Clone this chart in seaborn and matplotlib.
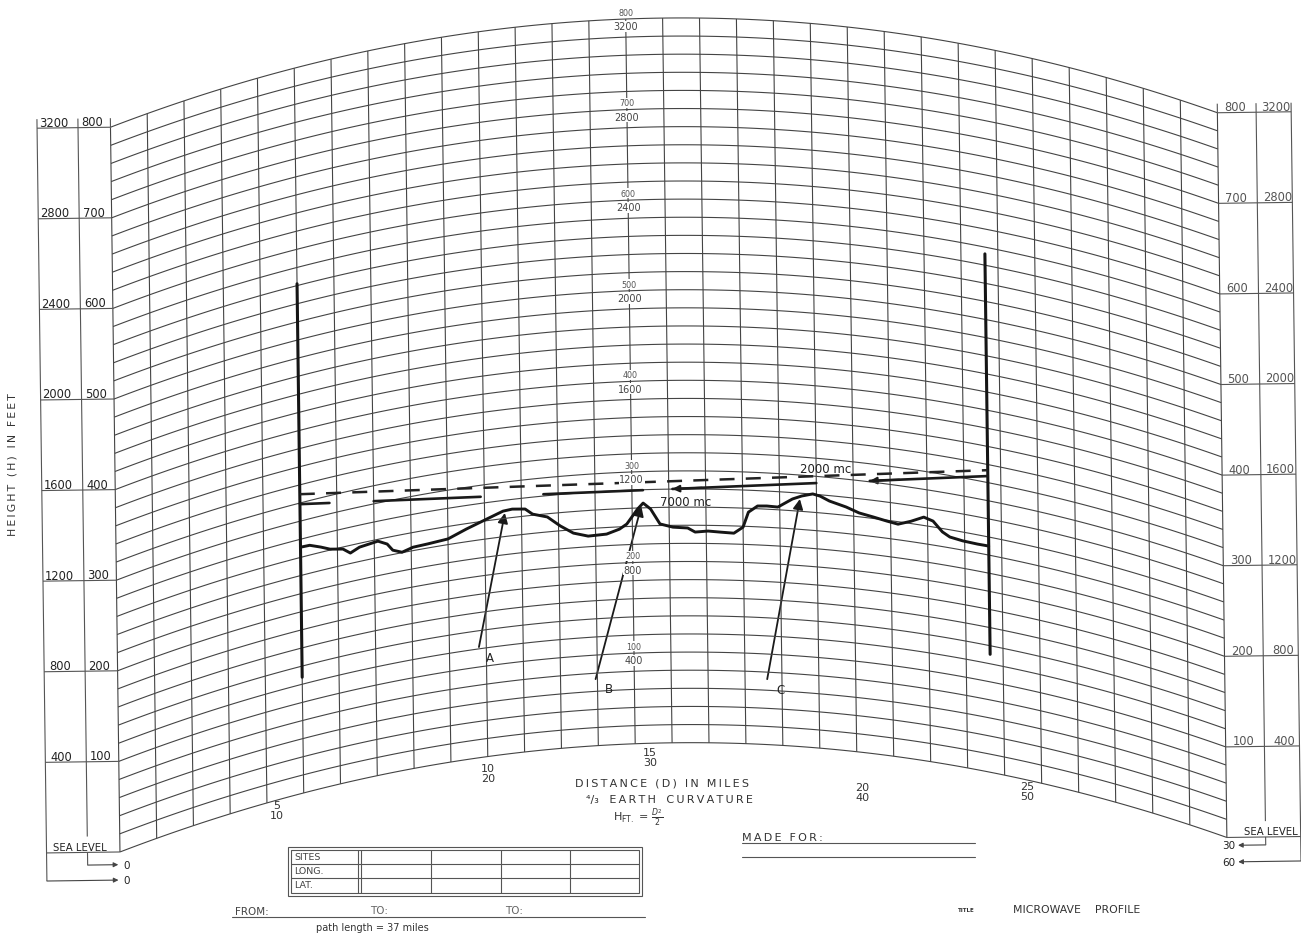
import numpy as np
import pandas as pd
import matplotlib
matplotlib.use("Agg")
import matplotlib.pyplot as plt
import seaborn as sns
from matplotlib.transforms import Affine2D
from matplotlib.collections import LineCollection
from matplotlib.patches import FancyArrowPatch, Rectangle

# ---------------- data ----------------
profile_miles = [10.0, 10.5, 11.1, 11.6, 12.3, 12.7, 13.2, 14.2, 14.7, 15.0,
                 15.5, 16.1, 16.9, 18.0, 19.0, 20.1, 21.0, 21.5, 22.2, 22.6,
                 23.4, 24.1, 24.8, 25.6, 26.6, 27.3, 27.7, 28.3, 28.6, 29.0,
                 29.5, 30.2, 31.0, 31.4, 32.1, 32.8, 33.5, 34.0, 34.3, 34.8,
                 35.3, 35.9, 36.4, 36.7, 37.2, 37.8, 38.2, 38.7, 39.6, 40.3,
                 41.1, 41.8, 42.4, 43.1, 43.8, 44.3, 44.8, 45.2, 45.9, 46.7, 47.3]
profile_elev_ft = [1085, 1083, 1063, 1044, 1031, 1006, 1023, 1032, 1011, 979,
                   962, 975, 978, 985, 1016, 1047, 1073, 1077, 1071, 1045,
                   1026, 981, 945, 927, 931, 950, 971, 1036, 1061, 1034,
                   967, 952, 948, 930, 935, 931, 928, 956, 1023, 1052,
                   1054, 1052, 1077, 1092, 1108, 1121, 1114, 1096, 1077, 1057,
                   1046, 1036, 1029, 1050, 1077, 1066, 1025, 1008, 1001, 999, 1000]

site_miles = [10.0, 47.3]
site_mast_low_ft = [511, 522]
site_mast_high_ft = [2248, 2290]

ray_names = ["7000 mc", "2000 mc"]
ray_start_ft = [1275, 1319]
ray_end_ft = [1309, 1335]
ray_7000_spans_mi = [(10.0, 11.6), (14.0, 19.8), (23.2, 28.6), (30.2, 38.0), (40.9, 47.3)]
ray_7000_arrow_mi = [30.2, 40.9]

obstacle_names = ["A", "B", "C"]
obstacle_miles = [21.1, 28.5, 37.1]
obstacle_elev_ft = [1064, 1048, 1094]
obstacle_tail_miles = [19.6, 25.9, 35.2]
obstacle_tail_ft = [488, 294, 289]
obstacle_label_miles = [20.2, 26.6, 35.9]
obstacle_label_ft = [437, 247, 248]

height_ft_ticks = [0, 400, 800, 1200, 1600, 2000, 2400, 2800, 3200]
height_alt_ticks = [0, 100, 200, 300, 400, 500, 600, 700, 800]
distance_mi_ticks = [10, 20, 30, 40, 50]
distance_alt_ticks = [5, 10, 15, 20, 25]
distance_label_miles = [8.54, 20.0, 28.8, 40.26, 49.2]
distance_label_app_ft = [176, 327, 388, 222, 217]
site_table_rows = ["SITES", "LONG.", "LAT."]
path_length_miles = 37

# ---------------- geometry of the chart paper ----------------
W, H = 1301, 937
X0_PX, PX_PER_MI = 115.0, 18.45
Y0_PX, PX_PER_FT = 846.0, 0.2265
SPAN_MI, TOP_FT = 60, 3200
GRID_FT, GRID_MI = 80, 2


def bulge(d):
    d = np.asarray(d, dtype=float)
    return 0.5 * d * (SPAN_MI - d)      # 4/3 earth: H = d1*d2/2


def app(d, h):
    return np.asarray(h, dtype=float) + bulge(d)


def spaced(s):
    return "\u2009".join(s)


sns.set_theme(style="white")
plt.rcParams['font.family'] = ['DejaVu Sans']
INK = '#222222'
GRIDC = '#444444'

fig = plt.figure(figsize=(W / 100, H / 100), dpi=100)
fig.patch.set_facecolor('white')
ax = fig.add_axes([0, 0, 1, 1])
ax.axis('off')
ax2 = fig.add_axes([0, 0, 1, 1])
ax2.axis('off')
ax2.set_xlim(0, W)
ax2.set_ylim(H, 0)


def set_limits():
    ax.set_xlim(-X0_PX / PX_PER_MI, (W - X0_PX) / PX_PER_MI)
    ax.set_ylim((Y0_PX - H) / PX_PER_FT, Y0_PX / PX_PER_FT)


set_limits()
rot = Affine2D().rotate_deg_around(650, H - 470, 0.75)
T = ax.transData + rot

# ---- curved grid ----
dd = np.linspace(0, SPAN_MI, 301)
segs = [np.column_stack([dd, app(dd, h)]) for h in np.arange(0, TOP_FT + 1, GRID_FT)]
segs += [np.array([[d, app(d, 0)], [d, app(d, TOP_FT)]]) for d in np.arange(0, SPAN_MI + 1, GRID_MI)]
ax.add_collection(LineCollection(segs, colors=GRIDC, linewidths=0.8, transform=T), autolim=False)

# ---- side scales ----
L_OUT, L_MID = -3.98, -1.76
R_MID, R_OUT = 62.1, 64.0
panel = []
for h in height_ft_ticks:
    panel.append([[L_OUT, h], [0, h]])
    panel.append([[SPAN_MI, h], [R_OUT, h]])
panel += [[[L_OUT, 3240], [L_OUT, -124]], [[L_MID, 3240], [L_MID, 70]], [[L_MID, 0], [L_MID, -56]],
          [[0, 3200], [0, 3240]], [[SPAN_MI, 3200], [SPAN_MI, 3240]],
          [[R_MID, 3240], [R_MID, 70]], [[R_MID, 0], [R_MID, -35]], [[R_OUT, 3240], [R_OUT, -108]]]
ax.add_collection(LineCollection(panel, colors='#555555', linewidths=0.8, transform=T), autolim=False)

for (xa, ya, xb) in [(L_OUT, -124, -0.1), (L_MID, -56, -0.1), (R_MID, -35, 60.6), (R_OUT, -108, 60.6)]:
    ax.add_patch(FancyArrowPatch((xa, ya), (xb, ya), arrowstyle='-|>', mutation_scale=7,
                                 lw=0.8, color='#444444', shrinkA=0, shrinkB=0, transform=T))
ax.text(0.15, -124, "0", ha='left', va='center', fontsize=7.5, color=INK, transform=T)
ax.text(0.15, -56, "0", ha='left', va='center', fontsize=7.5, color=INK, transform=T)
ax.text(60.45, -35, "30", ha='right', va='center', fontsize=7.5, color=INK, transform=T)
ax.text(60.45, -108, "60", ha='right', va='center', fontsize=7.5, color=INK, transform=T)

for hf, ha_ in zip(height_ft_ticks[1:], height_alt_ticks[1:]):
    ax.text(-3.09, hf + 10, str(hf), ha='center', va='baseline', fontsize=8.3, color=INK, transform=T)
    ax.text(-0.98, hf + 10, str(ha_), ha='center', va='baseline', fontsize=8.3, color=INK, transform=T)
    ax.text(60.95, hf + 10, str(ha_), ha='center', va='baseline', fontsize=8.3, color='#555555', transform=T)
    ax.text(63.18, hf + 10, str(hf), ha='center', va='baseline', fontsize=8.3, color='#555555', transform=T)
ax.text(-2.17, 12, "SEA LEVEL", ha='center', va='baseline', fontsize=7.3, color=INK, transform=T)
ax.text(62.4, 12, "SEA LEVEL", ha='center', va='baseline', fontsize=7.3, color=INK, transform=T)

# ---- centre height labels ----
for hf, ha_ in zip(height_ft_ticks[1:], height_alt_ticks[1:]):
    yc = float(app(28, hf))
    ax.text(28, yc + 10, str(ha_), ha='center', va='bottom', fontsize=5.8, color='#555555',
            transform=T, bbox=dict(fc='white', ec='none', pad=0.4))
    ax.text(28, yc - 10, str(hf), ha='center', va='top', fontsize=7.0, color='#444444',
            transform=T, bbox=dict(fc='white', ec='none', pad=0.4))

# ---- distance labels ----
for mi, alt, lx, ly in zip(distance_mi_ticks, distance_alt_ticks, distance_label_miles, distance_label_app_ft):
    ax.text(lx, ly, f"{alt}\n{mi}", ha='center', va='center', fontsize=8, linespacing=0.95,
            color='#333333', transform=T)

# ---- terrain profile ----
df = pd.DataFrame({'miles': profile_miles, 'elev': profile_elev_ft})
df['apparent'] = app(df['miles'], df['elev'])
sns.lineplot(data=df, x='miles', y='apparent', ax=ax, sort=False, estimator=None,
             color='#151515', linewidth=2.1, transform=T)

# ---- site masts ----
for d, lo, hi in zip(site_miles, site_mast_low_ft, site_mast_high_ft):
    ax.plot([d, d], [app(d, lo), app(d, hi)], color='#151515', lw=2.2, transform=T)

# ---- radio rays ----
d0, d1 = site_miles
y2a, y2b = float(app(d0, ray_start_ft[1])), float(app(d1, ray_end_ft[1]))
ax.plot([d0, d1], [y2a, y2b], color='#222222', lw=1.8, ls=(0, (6, 4.5)), transform=T)
y7a, y7b = float(app(d0, ray_start_ft[0])), float(app(d1, ray_end_ft[0]))
for a, b in ray_7000_spans_mi:
    xs = np.array([a, b])
    ax.plot(xs, np.interp(xs, [d0, d1], [y7a, y7b]), color='#1a1a1a', lw=1.9, transform=T)
for a in ray_7000_arrow_mi:
    pa = (a + 1.6, float(np.interp(a + 1.6, [d0, d1], [y7a, y7b])))
    pb = (a, float(np.interp(a, [d0, d1], [y7a, y7b])))
    ax.add_patch(FancyArrowPatch(pa, pb, arrowstyle='-|>', mutation_scale=10, lw=1.5,
                                 color='#1a1a1a', shrinkA=0, shrinkB=0, transform=T))

# ---- obstacle pointers ----
for name, dm, he, tm, tf, lm, lf in zip(obstacle_names, obstacle_miles, obstacle_elev_ft,
                                       obstacle_tail_miles, obstacle_tail_ft,
                                       obstacle_label_miles, obstacle_label_ft):
    ax.add_patch(FancyArrowPatch((tm, float(app(tm, tf))), (dm, float(app(dm, he))),
                                 arrowstyle='-|>', mutation_scale=15, lw=1.3, color='#1a1a1a',
                                 shrinkA=0, shrinkB=0, transform=T))
    ax.text(lm, float(app(lm, lf)), name, ha='center', va='center', fontsize=8.5, color=INK, transform=T)

set_limits()

# ---------------- free lettering (page positions) ----------------
ax2.text(686, 503, ray_names[0], ha='center', va='center', fontsize=8.5, color=INK)
ax2.text(826, 470, ray_names[1], ha='center', va='center', fontsize=8.5, color=INK)

ax2.text(13, 465, spaced("HEIGHT (H) IN FEET"), rotation=90, ha='center', va='center',
         fontsize=7.8, color='#333333')
ax2.text(662, 784, spaced("DISTANCE (D) IN MILES"), ha='center', va='center', fontsize=8, color='#333333')
ax2.text(669, 800, "\u2074/\u2083   " + spaced("EARTH") + "   " + spaced("CURVATURE"),
         ha='center', va='center', fontsize=8, color='#333333')
ax2.text(638, 818, r"H$_{\rm FT.}$ = $\frac{D^2}{2}$", ha='center', va='center', fontsize=8, color='#333333')

ax2.text(742, 838, spaced("MADE FOR:"), ha='left', va='center', fontsize=8, color='#333333')
ax2.plot([742, 975], [844, 844], color='#555555', lw=0.8)
ax2.plot([742, 975], [858, 858], color='#555555', lw=0.8)

# site table
ax2.add_patch(Rectangle((288, 848), 354, 49, fill=False, ec='#555555', lw=0.8))
ax2.add_patch(Rectangle((291, 851), 348, 43, fill=False, ec='#555555', lw=0.8))
for yy in [865, 879]:
    ax2.plot([291, 639], [yy, yy], color='#555555', lw=0.8)
for xx in [358, 361, 431, 501, 570]:
    ax2.plot([xx, xx], [851, 894], color='#555555', lw=0.8)
for yy, lab in zip([858, 872, 886], site_table_rows):
    ax2.text(294, yy, lab, ha='left', va='center', fontsize=6.8, color='#444444')

ax2.text(235, 912, "FROM:", ha='left', va='center', fontsize=7.5, color='#444444')
ax2.text(370, 911, "TO:", ha='left', va='center', fontsize=7.5, color='#666666')
ax2.text(505, 911, "TO:", ha='left', va='center', fontsize=7.5, color='#666666')
ax2.plot([232, 645], [918, 918], color='#555555', lw=0.8)
ax2.text(372, 928, f"path length = {path_length_miles} miles", ha='center', va='center',
         fontsize=7, color='#333333')

ax2.text(958, 911, "TITLE", ha='left', va='center', fontsize=4, fontweight='bold', color='#333333')
ax2.text(1013, 910, "MICROWAVE    PROFILE", ha='left', va='center', fontsize=7.8, color='#333333')

fig.savefig("out.png", dpi=100, facecolor='white')
